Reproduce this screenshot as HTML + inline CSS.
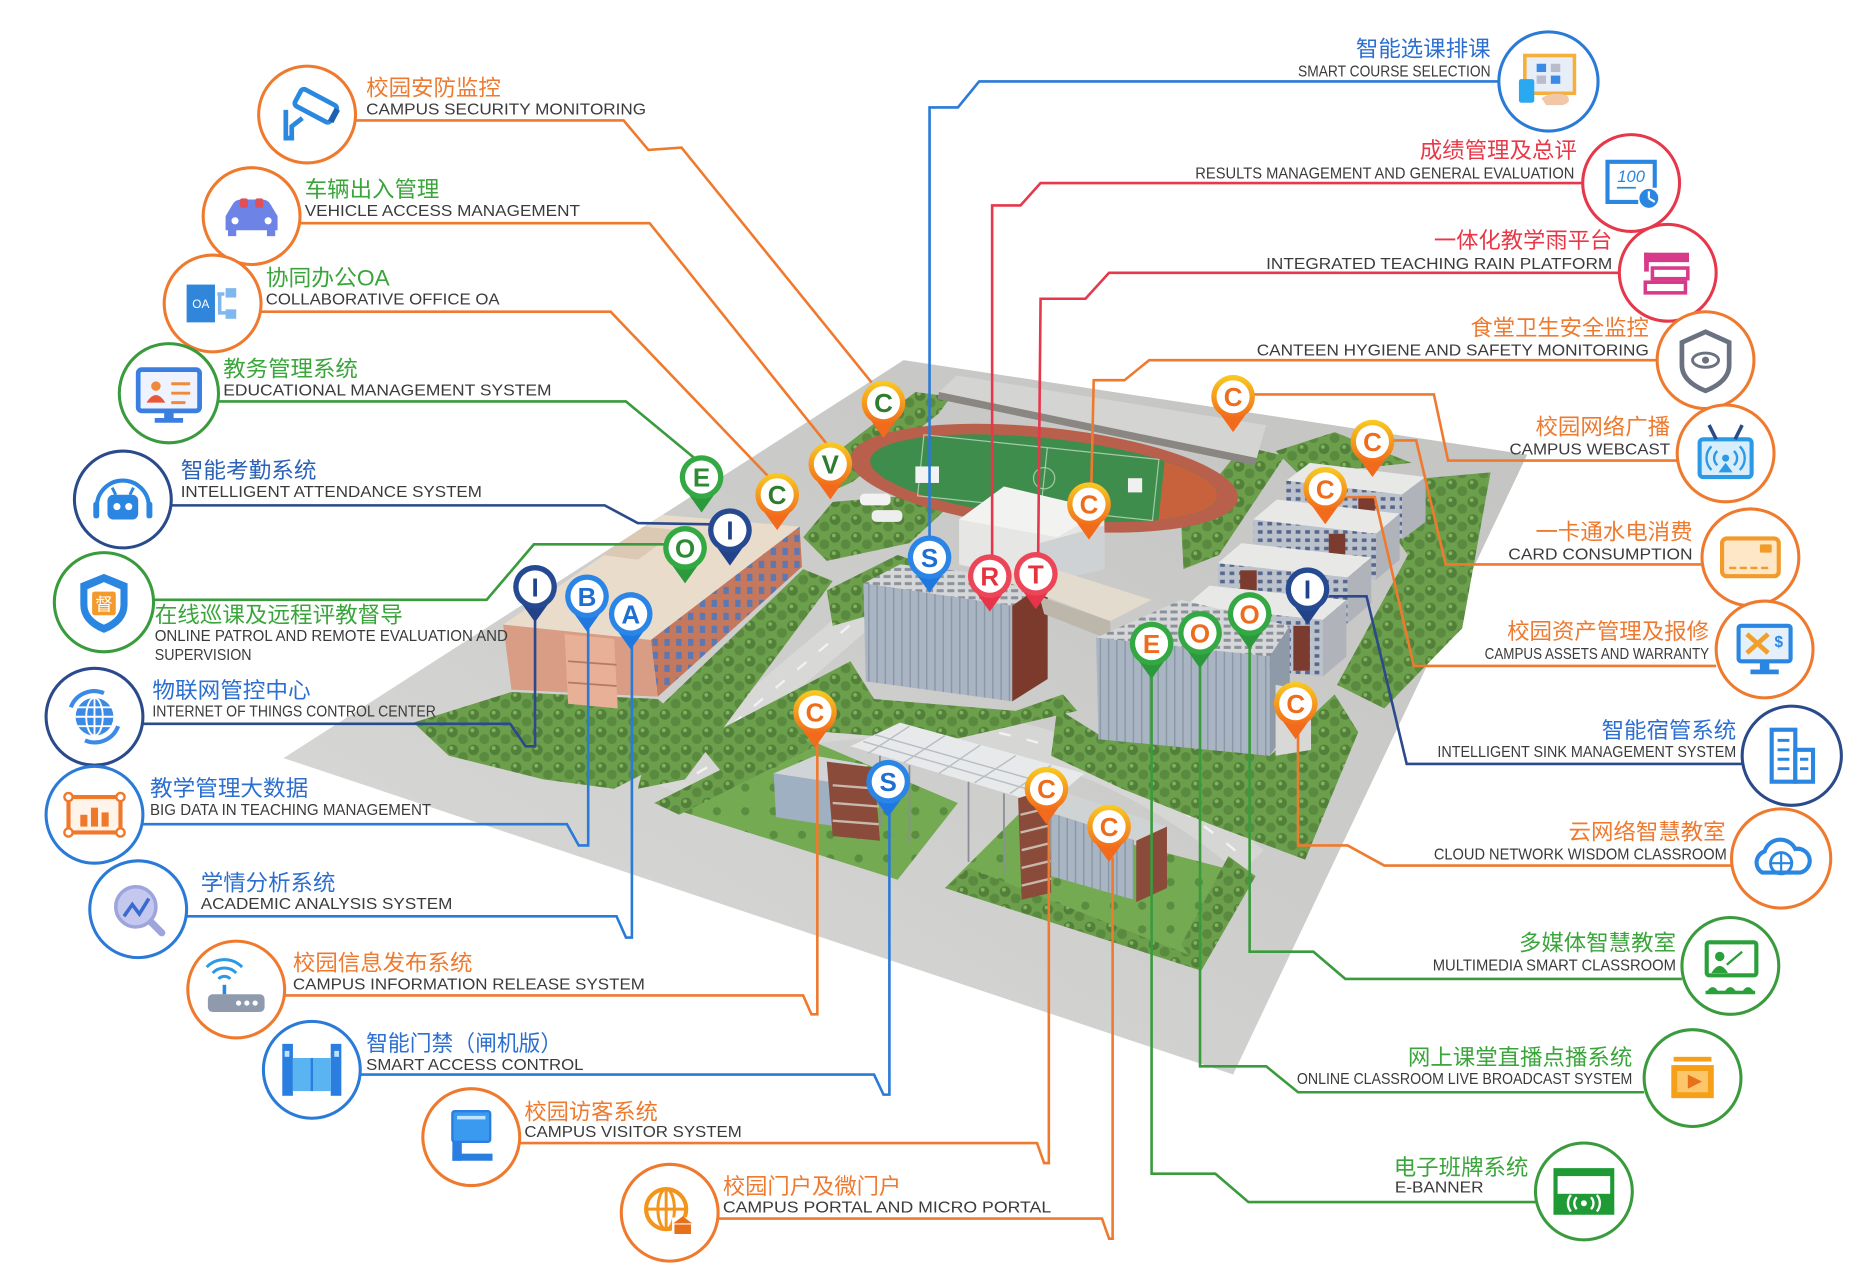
<!DOCTYPE html>
<html><head><meta charset="utf-8">
<style>
html,body{margin:0;padding:0;background:#fff;}
svg{display:block;}
text{font-family:"Liberation Sans","Noto Sans CJK SC",sans-serif;}
.cn{font-size:19px;}
.en{font-size:13.5px;fill:#3b3b3b;}
.pl{font-size:22px;font-weight:bold;font-family:"Liberation Sans",sans-serif;}
.ln{fill:none;stroke-width:2.2;stroke-linejoin:miter;}
.ring{fill:#fff;stroke-width:2.6;}
</style></head><body>
<svg width="1852" height="1280" viewBox="0 0 1568 1084" preserveAspectRatio="none" xmlns="http://www.w3.org/2000/svg">
<defs>
 <pattern id="trees" patternUnits="userSpaceOnUse" width="18" height="15">
   <rect width="18" height="15" fill="#6c9f4c"/>
   <circle cx="5" cy="5" r="4.5" fill="#527f39"/>
   <circle cx="14" cy="11" r="4.2" fill="#5a8a3f"/>
   <circle cx="4" cy="3.5" r="1.6" fill="#82b45e"/>
 </pattern>
 <pattern id="grass" patternUnits="userSpaceOnUse" width="24" height="20">
   <rect width="24" height="20" fill="#74aa52"/>
   <circle cx="7" cy="7" r="3.5" fill="#5b8d40"/>
 </pattern>
 <pattern id="win" patternUnits="userSpaceOnUse" width="10" height="11">
   <rect width="10" height="11" fill="#c4785e"/>
   <rect x="2.5" y="2" width="4.5" height="6" fill="#5d78b0"/>
 </pattern>
 <pattern id="glass" patternUnits="userSpaceOnUse" width="7" height="10">
   <rect width="7" height="10" fill="#a9b5c2"/>
   <rect x="0" y="0" width="1.2" height="10" fill="#8a97a6"/>
 </pattern>
 <pattern id="dorm" patternUnits="userSpaceOnUse" width="8" height="7">
   <rect width="8" height="7" fill="#bcc2cb"/>
   <rect x="1" y="1" width="4" height="3" fill="#56668c"/>
 </pattern>
 <pattern id="panel" patternUnits="userSpaceOnUse" width="9" height="6">
   <rect width="9" height="6" fill="#d5d7d8"/>
   <rect x="1" y="1" width="6" height="2.5" fill="#8b9099"/>
 </pattern>
 <linearGradient id="plat" x1="0" y1="1" x2="1" y2="0">
   <stop offset="0" stop-color="#dcdcda"/><stop offset="0.5" stop-color="#cdcdcb"/><stop offset="1" stop-color="#c3c3c1"/>
 </linearGradient>
 <linearGradient id="og" x1="0" y1="0" x2="0" y2="1"><stop offset="0" stop-color="#f9cb22"/><stop offset="1" stop-color="#f26a1b"/></linearGradient>
</defs>

<rect width="1568" height="1084" fill="#fff"/>

<!-- ============ CAMPUS ============ -->
<polygon points="240,642 765,305 1293,385 1044,910" fill="url(#plat)"/>
<polygon points="545,660 780,462 805,472 575,672" fill="#d8d8d6"/>
<path d="M560,650 Q640,600 760,600 Q930,600 1070,720 L1050,740 Q920,630 760,625 Q650,625 585,665 Z" fill="#d6d6d4"/>
<g stroke="#f2f2f2" stroke-width="2" stroke-dasharray="10,14">
 <line x1="565" y1="660" x2="790" y2="470"/>
 <path d="M590,655 Q660,612 760,612 Q920,612 1055,728" fill="none"/>
</g>

<!-- lawns -->
<polygon points="350,612 433,586 557,592 580,612 555,650 520,668 460,660 380,640" fill="url(#trees)"/>
<polygon points="540,668 557,600 680,482 705,492 580,660" fill="url(#trees)"/>
<polygon points="686,400 775,332 805,336 795,350 722,408 700,418" fill="url(#trees)"/>
<polygon points="680,455 705,425 790,418 800,432 770,460 700,475" fill="url(#trees)"/>
<polygon points="590,628 720,560 740,592 860,602 900,588 912,602 800,628 700,620 612,655" fill="url(#trees)"/>
<polygon points="554,680 672,621 811,680 760,745" fill="url(#grass)"/>
<polygon points="554,680 672,621 690,632 575,690" fill="url(#trees)"/>
<polygon points="800,752 862,690 1063,742 1017,822" fill="url(#grass)"/>
<polygon points="800,752 820,735 1010,810 1017,822" fill="url(#trees)"/>
<polygon points="1063,742 1040,725 1000,800 1017,822" fill="url(#trees)"/>
<polygon points="895,600 935,625 1075,640 1130,588 1150,620 1105,728 1030,700 950,668 890,640" fill="url(#trees)"/>
<polygon points="1150,410 1262,400 1238,532 1172,600 1132,580 1192,470" fill="url(#trees)"/>
<polygon points="1000,442 1052,378 1088,386 1032,470 1002,482" fill="url(#trees)"/>
<polygon points="1080,382 1130,366 1195,392 1100,402" fill="url(#trees)"/>
<polygon points="700,500 760,470 790,480 740,520 705,530" fill="url(#trees)"/>

<!-- stadium -->
<polygon points="795,332 810,318 1072,360 1064,388" fill="#d4d4d2"/>
<polygon points="795,332 1064,388 1062,394 794,338" fill="#8a8681"/>
<g transform="translate(884,405) rotate(6)">
 <ellipse rx="165" ry="43" fill="#b8604c"/>
 <ellipse rx="148" ry="34" fill="#3e8d4d"/>
 <path d="M100,-25 A148,34 0 0 1 100,25 Z" fill="#c8623c"/>
 <rect x="-105" y="-26" width="200" height="52" fill="none" stroke="#cfe5cf" stroke-width="1" opacity="0.7"/>
 <line x1="0" y1="-26" x2="0" y2="26" stroke="#cfe5cf" stroke-width="1" opacity="0.7"/>
 <circle r="9" fill="none" stroke="#cfe5cf" stroke-width="1" opacity="0.7"/>
</g>
<rect x="955" y="405" width="12" height="12" fill="#f0f0f0"/>
<rect x="775" y="395" width="20" height="14" fill="#f2f2f2"/>

<!-- brick building -->
<polygon points="426,529 561,436 677,446 551,542" fill="#e9dccb"/>
<polygon points="510,470 545,446 575,449 540,474" fill="#dcc9b3"/>
<polygon points="551,542 677,446 679,480 557,590" fill="url(#win)"/>
<polygon points="426,529 551,542 557,590 433,584" fill="#d99c84"/>
<polygon points="478,537 520,541 523,600 481,596" fill="#e8b096"/>
<line x1="481" y1="560" x2="522" y2="563" stroke="#b67a62" stroke-width="1.5"/>
<line x1="481" y1="578" x2="522" y2="581" stroke="#b67a62" stroke-width="1.5"/>
<rect x="728" y="418" width="26" height="10" rx="4" fill="#f2f2f2"/>
<rect x="738" y="432" width="26" height="10" rx="4" fill="#eeeeee"/>

<!-- canteen -->
<polygon points="812,440 850,412 935,432 935,482 880,494 812,478" fill="#e6e6e4"/>
<polygon points="812,440 850,412 935,432 895,455" fill="#f2f2f0"/>
<polygon points="880,460 935,445 935,482 880,494" fill="#cfd2d4"/>

<!-- center building -->
<polygon points="731,494 762,478 887,492 857,513" fill="url(#panel)"/>
<polygon points="731,494 857,513 857,594 733,577" fill="url(#glass)"/>
<polygon points="857,513 887,492 887,575 857,594" fill="#7b3a2b"/>
<polygon points="845,490 880,478 975,508 940,526" fill="#e3dbcd"/>
<polygon points="880,505 940,526 940,542 884,520" fill="#bdb6aa"/>

<!-- dorms -->
<polygon points="1109,392 1207,404 1187,419 1089,407" fill="#e8e8e6"/>
<polygon points="1089,407 1187,419 1187,457 1089,445" fill="url(#dorm)"/>
<polygon points="1187,419 1207,404 1207,442 1187,457" fill="#b0b4ba"/>
<rect x="1150" y="420" width="14" height="30" fill="#7b3b2e"/>

<polygon points="1081,423 1185,435 1165,452 1061,440" fill="#e8e8e6"/>
<polygon points="1061,440 1165,452 1165,491 1061,479" fill="url(#dorm)"/>
<polygon points="1165,452 1185,435 1185,474 1165,491" fill="#b0b4ba"/>
<rect x="1125" y="452" width="14" height="32" fill="#7b3b2e"/>

<polygon points="1051,460 1161,472 1141,489 1031,477" fill="#e8e8e6"/>
<polygon points="1031,477 1141,489 1141,528 1031,516" fill="url(#dorm)"/>
<polygon points="1141,489 1161,472 1161,511 1141,528" fill="#b0b4ba"/>
<rect x="1050" y="483" width="14" height="32" fill="#7b3b2e"/>

<polygon points="1024,496 1140,508 1120,525 1004,513" fill="#e8e8e6"/>
<polygon points="1004,513 1120,525 1120,573 1004,561" fill="url(#dorm)"/>
<polygon points="1120,525 1140,508 1140,556 1120,573" fill="#b0b4ba"/>
<rect x="1095" y="530" width="14" height="38" fill="#7b3b2e"/>

<!-- right glass building -->
<polygon points="928,540 1000,508 1092,530 1075,556" fill="url(#panel)"/>
<polygon points="928,540 1075,556 1075,640 930,626" fill="url(#glass)"/>
<polygon points="1075,556 1092,530 1092,616 1075,640" fill="#8e9aa8"/>
<polygon points="1080,580 1110,585 1110,635 1080,640" fill="#d8d8d6"/>

<!-- gate area -->
<polygon points="655,655 690,640 735,648 720,665" fill="#d0d4d6"/>
<polygon points="655,655 720,665 722,702 657,692" fill="#9fb0c2"/>
<polygon points="700,645 740,650 745,712 705,708" fill="#8a4b3a"/>
<line x1="705" y1="665" x2="744" y2="668" stroke="#c9b8ac" stroke-width="2"/>
<line x1="705" y1="680" x2="744" y2="683" stroke="#c9b8ac" stroke-width="2"/>
<line x1="705" y1="695" x2="744" y2="698" stroke="#c9b8ac" stroke-width="2"/>
<polygon points="720,632 762,612 918,655 886,682" fill="#e7e9eb"/>
<g stroke="#b9bec4" stroke-width="1.2">
 <line x1="740" y1="622" x2="895" y2="666"/>
 <line x1="731" y1="628" x2="890" y2="674"/>
 <line x1="770" y1="615" x2="735" y2="638"/>
 <line x1="800" y1="623" x2="765" y2="646"/>
 <line x1="830" y1="631" x2="795" y2="655"/>
 <line x1="860" y1="640" x2="825" y2="663"/>
 <line x1="890" y1="648" x2="855" y2="672"/>
</g>
<g stroke="#8a8f95" stroke-width="1.5">
 <line x1="745" y1="640" x2="745" y2="700"/><line x1="770" y1="648" x2="770" y2="715"/>
 <line x1="820" y1="662" x2="820" y2="730"/><line x1="850" y1="672" x2="850" y2="740"/>
</g>
<polygon points="862,676 888,668 890,756 865,762" fill="#8a4b3a"/>
<g stroke="#c9b8ac" stroke-width="2"><line x1="864" y1="690" x2="889" y2="684"/><line x1="864" y1="705" x2="889" y2="699"/><line x1="865" y1="720" x2="889" y2="714"/><line x1="865" y1="735" x2="890" y2="729"/><line x1="865" y1="750" x2="890" y2="744"/></g>
<polygon points="888,688 960,710 960,762 890,742" fill="url(#glass)"/>
<polygon points="884,686 905,672 988,700 962,712" fill="#cfd3d4"/>
<polygon points="962,712 988,700 988,752 962,764" fill="#8a4b3a"/>

<!-- ============ CONNECTORS ============ -->
<g class="ln">
<polyline stroke="#ef7a2e" class="ln" points="301,102 528,102 549,127 577,125 738,324"/>
<polyline stroke="#ef7a2e" class="ln" points="254,189 550,189 700,376"/>
<polyline stroke="#ef7a2e" class="ln" points="221,264 517,264 651,404"/>
<polyline stroke="#3a9b3d" class="ln" points="185,340 530,340 588,388"/>
<polyline stroke="#2a4a8c" class="ln" points="145,428 512,428 540,443 602,444"/>
<polyline stroke="#3a9b3d" class="ln" points="130,508 412,508 452,461 563,461"/>
<polyline stroke="#2a4a8c" class="ln" points="121,613 432,613 445,632 453,632 453,524"/>
<polyline stroke="#2a7ad8" class="ln" points="121,698 480,698 490,716 498,716 498,530"/>
<polyline stroke="#2a7ad8" class="ln" points="158,776 522,776 530,794 535,794 535,545"/>
<polyline stroke="#ef7a2e" class="ln" points="241,843 680,843 687,859 692,859 692,628"/>
<polyline stroke="#2a7ad8" class="ln" points="305,910 740,910 748,927 753,927 753,688"/>
<polyline stroke="#ef7a2e" class="ln" points="440,968 878,968 884,985 888,985 888,694"/>
<polyline stroke="#ef7a2e" class="ln" points="608,1032 933,1032 939,1049 942,1049 942,726"/>

<polyline stroke="#2a7ad8" class="ln" points="1269,69 829,69 811,91 787,91 787,455"/>
<polyline stroke="#e6374b" class="ln" points="1340,155 881,155 864,174 840,174 840,470"/>
<polyline stroke="#e6374b" class="ln" points="1371,231 939,231 919,253 881,253 879,468"/>
<polyline stroke="#ef7a2e" class="ln" points="1403,305 973,305 952,322 926,322 924,410"/>
<polyline stroke="#ef7a2e" class="ln" points="1420,390 1226,390 1214,334 1062,334"/>
<polyline stroke="#ef7a2e" class="ln" points="1441,478 1224,478 1199,373 1180,373"/>
<polyline stroke="#ef7a2e" class="ln" points="1453,564 1197,564 1164,421 1140,421"/>
<polyline stroke="#2a4a8c" class="ln" points="1475,647 1191,647 1157,505 1125,505"/>
<polyline stroke="#ef7a2e" class="ln" points="1466,733 1172,733 1141,716 1099,716 1099,622"/>
<polyline stroke="#3a9b3d" class="ln" points="1424,829 1139,829 1112,806 1058,806 1058,546"/>
<polyline stroke="#3a9b3d" class="ln" points="1392,925 1099,925 1072,903 1016,903 1016,562"/>
<polyline stroke="#3a9b3d" class="ln" points="1300,1018 1057,1018 1029,994 975,994 975,571"/>
</g>

<!-- ============ PINS ============ -->
<g transform="translate(748,341)"><path d="M-15,9 L0,30 L15,9 Z" fill="#f26a1b"/><circle r="18.5" fill="url(#og)"/><circle r="14" fill="#fff"/><text y="8" text-anchor="middle" class="pl" fill="#2e7d2e">C</text></g>
<g transform="translate(703,393)"><path d="M-15,9 L0,30 L15,9 Z" fill="#f26a1b"/><circle r="18.5" fill="url(#og)"/><circle r="14" fill="#fff"/><text y="8" text-anchor="middle" class="pl" fill="#2e7d2e">V</text></g>
<g transform="translate(658,419)"><path d="M-15,9 L0,30 L15,9 Z" fill="#f26a1b"/><circle r="18.5" fill="url(#og)"/><circle r="14" fill="#fff"/><text y="8" text-anchor="middle" class="pl" fill="#2e7d2e">C</text></g>
<g transform="translate(922,427)"><path d="M-15,9 L0,30 L15,9 Z" fill="#f26a1b"/><circle r="18.5" fill="url(#og)"/><circle r="14" fill="#fff"/><text y="8" text-anchor="middle" class="pl" fill="#ee6d1c">C</text></g>
<g transform="translate(1044,336)"><path d="M-15,9 L0,30 L15,9 Z" fill="#f26a1b"/><circle r="18.5" fill="url(#og)"/><circle r="14" fill="#fff"/><text y="8" text-anchor="middle" class="pl" fill="#ee6d1c">C</text></g>
<g transform="translate(1162,374)"><path d="M-15,9 L0,30 L15,9 Z" fill="#f26a1b"/><circle r="18.5" fill="url(#og)"/><circle r="14" fill="#fff"/><text y="8" text-anchor="middle" class="pl" fill="#ee6d1c">C</text></g>
<g transform="translate(1122,414)"><path d="M-15,9 L0,30 L15,9 Z" fill="#f26a1b"/><circle r="18.5" fill="url(#og)"/><circle r="14" fill="#fff"/><text y="8" text-anchor="middle" class="pl" fill="#ee6d1c">C</text></g>
<g transform="translate(1097,596)"><path d="M-15,9 L0,30 L15,9 Z" fill="#f26a1b"/><circle r="18.5" fill="url(#og)"/><circle r="14" fill="#fff"/><text y="8" text-anchor="middle" class="pl" fill="#ee6d1c">C</text></g>
<g transform="translate(690,603)"><path d="M-15,9 L0,30 L15,9 Z" fill="#f26a1b"/><circle r="18.5" fill="url(#og)"/><circle r="14" fill="#fff"/><text y="8" text-anchor="middle" class="pl" fill="#ee6d1c">C</text></g>
<g transform="translate(886,668)"><path d="M-15,9 L0,30 L15,9 Z" fill="#f26a1b"/><circle r="18.5" fill="url(#og)"/><circle r="14" fill="#fff"/><text y="8" text-anchor="middle" class="pl" fill="#ee6d1c">C</text></g>
<g transform="translate(939,700)"><path d="M-15,9 L0,30 L15,9 Z" fill="#f26a1b"/><circle r="18.5" fill="url(#og)"/><circle r="14" fill="#fff"/><text y="8" text-anchor="middle" class="pl" fill="#ee6d1c">C</text></g>
<g transform="translate(594,404)"><path d="M-15,9 L0,30 L15,9 Z" fill="#2c9a3c"/><circle r="18.5" fill="#33a843"/><circle r="14" fill="#fff"/><text y="8" text-anchor="middle" class="pl" fill="#2e8a34">E</text></g>
<g transform="translate(580,464)"><path d="M-15,9 L0,30 L15,9 Z" fill="#2c9a3c"/><circle r="18.5" fill="#33a843"/><circle r="14" fill="#fff"/><text y="8" text-anchor="middle" class="pl" fill="#2e8a34">O</text></g>
<g transform="translate(1058,520)"><path d="M-15,9 L0,30 L15,9 Z" fill="#2c9a3c"/><circle r="18.5" fill="#33a843"/><circle r="14" fill="#fff"/><text y="8" text-anchor="middle" class="pl" fill="#ee6d1c">O</text></g>
<g transform="translate(1016,536)"><path d="M-15,9 L0,30 L15,9 Z" fill="#2c9a3c"/><circle r="18.5" fill="#33a843"/><circle r="14" fill="#fff"/><text y="8" text-anchor="middle" class="pl" fill="#ee6d1c">O</text></g>
<g transform="translate(975,545)"><path d="M-15,9 L0,30 L15,9 Z" fill="#2c9a3c"/><circle r="18.5" fill="#33a843"/><circle r="14" fill="#fff"/><text y="8" text-anchor="middle" class="pl" fill="#ee6d1c">E</text></g>
<g transform="translate(618,449)"><path d="M-15,9 L0,30 L15,9 Z" fill="#22438a"/><circle r="18.5" fill="#264a92"/><circle r="14" fill="#fff"/><text y="8" text-anchor="middle" class="pl" fill="#22438a">I</text></g>
<g transform="translate(453,497)"><path d="M-15,9 L0,30 L15,9 Z" fill="#22438a"/><circle r="18.5" fill="#264a92"/><circle r="14" fill="#fff"/><text y="8" text-anchor="middle" class="pl" fill="#22438a">I</text></g>
<g transform="translate(1107,499)"><path d="M-15,9 L0,30 L15,9 Z" fill="#22438a"/><circle r="18.5" fill="#264a92"/><circle r="14" fill="#fff"/><text y="8" text-anchor="middle" class="pl" fill="#22438a">I</text></g>
<g transform="translate(497,505)"><path d="M-15,9 L0,30 L15,9 Z" fill="#1f78df"/><circle r="18.5" fill="#2a85e6"/><circle r="14" fill="#fff"/><text y="8" text-anchor="middle" class="pl" fill="#1f6fd0">B</text></g>
<g transform="translate(534,520)"><path d="M-15,9 L0,30 L15,9 Z" fill="#1f78df"/><circle r="18.5" fill="#2a85e6"/><circle r="14" fill="#fff"/><text y="8" text-anchor="middle" class="pl" fill="#1f6fd0">A</text></g>
<g transform="translate(787,472)"><path d="M-15,9 L0,30 L15,9 Z" fill="#1f78df"/><circle r="18.5" fill="#2a85e6"/><circle r="14" fill="#fff"/><text y="8" text-anchor="middle" class="pl" fill="#1f6fd0">S</text></g>
<g transform="translate(752,662)"><path d="M-15,9 L0,30 L15,9 Z" fill="#1f78df"/><circle r="18.5" fill="#2a85e6"/><circle r="14" fill="#fff"/><text y="8" text-anchor="middle" class="pl" fill="#1f6fd0">S</text></g>
<g transform="translate(838,488)"><path d="M-15,9 L0,30 L15,9 Z" fill="#e8344a"/><circle r="18.5" fill="#ec4558"/><circle r="14" fill="#fff"/><text y="8" text-anchor="middle" class="pl" fill="#e5333f">R</text></g>
<g transform="translate(877,486)"><path d="M-15,9 L0,30 L15,9 Z" fill="#e8344a"/><circle r="18.5" fill="#ec4558"/><circle r="14" fill="#fff"/><text y="8" text-anchor="middle" class="pl" fill="#e5333f">T</text></g>

<!-- ============ LEFT ITEMS ============ -->
<circle class="ring" cx="260" cy="97" r="41" stroke="#ef7a2e"/>
<g transform="translate(260,97)">
 <g transform="rotate(28)"><rect x="-14" y="-18" width="34" height="16" rx="3" fill="#fff" stroke="#2a88e0" stroke-width="4"/><rect x="18" y="-16" width="5" height="12" fill="#1f5fb0"/></g>
 <path d="M-18,-4 v24 h5 v-10 l9,-7" fill="none" stroke="#2a88e0" stroke-width="4"/>
</g>
<text class="cn" x="310" y="81" fill="#ee7a30" textLength="114" lengthAdjust="spacingAndGlyphs">校园安防监控</text>
<text class="en" x="310" y="97" textLength="237" lengthAdjust="spacingAndGlyphs">CAMPUS SECURITY MONITORING</text>

<circle class="ring" cx="213" cy="183" r="41" stroke="#ef7a2e"/>
<g transform="translate(213,183)">
 <path d="M-22,0 L-16,-10 Q-14,-14 -8,-14 L8,-14 Q14,-14 16,-10 L22,0 L22,12 L-22,12 Z" fill="#6d84e6"/>
 <rect x="-10" y="-15" width="7" height="8" rx="2" fill="#e0505a"/><rect x="3" y="-15" width="7" height="8" rx="2" fill="#e0505a"/>
 <rect x="-20" y="11" width="7" height="6" fill="#6d84e6"/><rect x="13" y="11" width="7" height="6" fill="#6d84e6"/>
 <circle cx="-14" cy="4" r="3" fill="#fff"/><circle cx="14" cy="4" r="3" fill="#fff"/>
</g>
<text class="cn" x="258" y="167" fill="#3aa53a" textLength="114" lengthAdjust="spacingAndGlyphs">车辆出入管理</text>
<text class="en" x="258" y="183" textLength="233" lengthAdjust="spacingAndGlyphs">VEHICLE ACCESS MANAGEMENT</text>

<circle class="ring" cx="180" cy="257" r="41" stroke="#ef7a2e"/>
<g transform="translate(180,257)">
 <rect x="-22" y="-16" width="24" height="32" fill="#2f86da"/>
 <text x="-10" y="4" font-size="10" fill="#fff" text-anchor="middle">OA</text>
 <path d="M4,-8 h6 M6,-8 v16 h6" stroke="#7fb8ee" stroke-width="3" fill="none"/>
 <rect x="11" y="-13" width="9" height="8" fill="#7fb8ee"/><rect x="11" y="5" width="9" height="8" fill="#7fb8ee"/>
</g>
<text class="cn" x="225" y="242" fill="#3aa53a" textLength="105" lengthAdjust="spacingAndGlyphs">协同办公OA</text>
<text class="en" x="225" y="258" textLength="198" lengthAdjust="spacingAndGlyphs">COLLABORATIVE OFFICE OA</text>

<circle class="ring" cx="143" cy="333" r="42" stroke="#3a9b3d"/>
<g transform="translate(143,333)">
 <rect x="-26" y="-20" width="52" height="35" rx="3" fill="#eef3ff" stroke="#3a7ee0" stroke-width="4"/>
 <rect x="-4" y="15" width="8" height="7" fill="#3a7ee0"/><rect x="-12" y="21" width="24" height="4" fill="#3a7ee0"/>
 <circle cx="-11" cy="-6" r="4" fill="#f08a3a"/><path d="M-19,8 q8,-13 16,0 z" fill="#e8573a"/>
 <path d="M2,-8 h16 M2,0 h16 M2,8 h12" stroke="#f08a3a" stroke-width="2.5"/>
</g>
<text class="cn" x="189" y="319" fill="#3aa53a" textLength="114" lengthAdjust="spacingAndGlyphs">教务管理系统</text>
<text class="en" x="189" y="335" textLength="278" lengthAdjust="spacingAndGlyphs">EDUCATIONAL MANAGEMENT SYSTEM</text>

<circle class="ring" cx="104" cy="423" r="41" stroke="#2a4a8c"/>
<g transform="translate(104,423)">
 <path d="M-22,6 A22,22 0 0 1 22,6" stroke="#2a86e0" stroke-width="3.5" fill="none"/>
 <rect x="-25" y="2" width="5" height="14" rx="2" fill="#2a86e0"/><rect x="20" y="2" width="5" height="14" rx="2" fill="#2a86e0"/>
 <rect x="-13" y="-4" width="26" height="21" rx="5" fill="#2a86e0"/>
 <circle cx="-5" cy="6" r="3" fill="#fff"/><circle cx="5" cy="6" r="3" fill="#fff"/>
 <path d="M-6,-4 l-3,-6 M6,-4 l3,-6" stroke="#2a86e0" stroke-width="2.5"/>
</g>
<text class="cn" x="153" y="405" fill="#2c62b8" textLength="115" lengthAdjust="spacingAndGlyphs">智能考勤系统</text>
<text class="en" x="153" y="421" textLength="255" lengthAdjust="spacingAndGlyphs">INTELLIGENT ATTENDANCE SYSTEM</text>

<circle class="ring" cx="88" cy="510" r="42" stroke="#3a9b3d"/>
<g transform="translate(88,510)">
 <path d="M0,-24 L20,-16 L20,2 Q20,18 0,26 Q-20,18 -20,2 L-20,-16 Z" fill="#2a86e0"/>
 <path d="M0,-17 L14,-11 L14,2 Q14,13 0,19 Q-14,13 -14,2 L-14,-11 Z" fill="#fff"/>
 <rect x="-10" y="-9" width="20" height="20" rx="2" fill="#f39a2a"/>
 <text x="0" y="7" font-size="15" fill="#fff" text-anchor="middle" font-family="Noto Sans CJK SC, sans-serif">督</text>
</g>
<text class="cn" x="131" y="527" fill="#3aa53a" textLength="210" lengthAdjust="spacingAndGlyphs">在线巡课及远程评教督导</text>
<text class="en" x="131" y="543" textLength="299" lengthAdjust="spacingAndGlyphs">ONLINE PATROL AND REMOTE EVALUATION AND</text>
<text class="en" x="131" y="559" textLength="82" lengthAdjust="spacingAndGlyphs">SUPERVISION</text>

<circle class="ring" cx="80" cy="607" r="41" stroke="#2a4a8c"/>
<g transform="translate(80,607)">
 <circle r="16" fill="#3a8ae6"/>
 <ellipse rx="7" ry="16" fill="none" stroke="#fff" stroke-width="1.6"/>
 <path d="M-16,0 h32 M-14,-8 h28 M-14,8 h28 M0,-16 v32" stroke="#fff" stroke-width="1.6"/>
 <path d="M-20,-8 A21,21 0 0 1 8,-20" fill="none" stroke="#3a8ae6" stroke-width="3.5"/>
 <path d="M20,8 A21,21 0 0 1 -8,20" fill="none" stroke="#3a8ae6" stroke-width="3.5"/>
</g>
<text class="cn" x="129" y="591" fill="#2c6fd0" textLength="134" lengthAdjust="spacingAndGlyphs">物联网管控中心</text>
<text class="en" x="129" y="607" textLength="240" lengthAdjust="spacingAndGlyphs">INTERNET OF THINGS CONTROL CENTER</text>

<circle class="ring" cx="80" cy="690" r="41" stroke="#2a7ad8"/>
<g transform="translate(80,690)">
 <rect x="-22" y="-15" width="44" height="30" fill="#fff4ea" stroke="#f0782a" stroke-width="3.5"/>
 <circle cx="-22" cy="-15" r="3.5" fill="#fff" stroke="#f0782a" stroke-width="2"/><circle cx="22" cy="-15" r="3.5" fill="#fff" stroke="#f0782a" stroke-width="2"/>
 <circle cx="-22" cy="15" r="3.5" fill="#fff" stroke="#f0782a" stroke-width="2"/><circle cx="22" cy="15" r="3.5" fill="#fff" stroke="#f0782a" stroke-width="2"/>
 <rect x="-12" y="0" width="6" height="10" fill="#f0782a"/><rect x="-3" y="-6" width="6" height="16" fill="#f0782a"/><rect x="6" y="-2" width="6" height="12" fill="#f0782a"/>
</g>
<text class="cn" x="127" y="674" fill="#2c6fd0" textLength="134" lengthAdjust="spacingAndGlyphs">教学管理大数据</text>
<text class="en" x="127" y="690" textLength="238" lengthAdjust="spacingAndGlyphs">BIG DATA IN TEACHING MANAGEMENT</text>

<circle class="ring" cx="117" cy="770" r="41" stroke="#2a7ad8"/>
<g transform="translate(117,770)">
 <line x1="10" y1="10" x2="20" y2="20" stroke="#9ea4dc" stroke-width="6" stroke-linecap="round"/>
 <circle cx="-2" cy="-2" r="17" fill="#c4c8ee" stroke="#9ea4dc" stroke-width="3"/>
 <polyline points="-12,6 -5,-4 1,4 9,-9" fill="none" stroke="#3a6ad0" stroke-width="3"/>
</g>
<text class="cn" x="170" y="754" fill="#2c6fd0" textLength="114" lengthAdjust="spacingAndGlyphs">学情分析系统</text>
<text class="en" x="170" y="770" textLength="213" lengthAdjust="spacingAndGlyphs">ACADEMIC ANALYSIS SYSTEM</text>

<circle class="ring" cx="200" cy="838" r="41" stroke="#ef7a2e"/>
<g transform="translate(200,838)">
 <rect x="-24" y="4" width="48" height="15" rx="4" fill="#8f9bad"/>
 <circle cx="2" cy="11.5" r="2.2" fill="#fff"/><circle cx="9" cy="11.5" r="2.2" fill="#fff"/><circle cx="16" cy="11.5" r="2.2" fill="#fff"/>
 <line x1="-10" y1="-4" x2="-10" y2="4" stroke="#2a86e0" stroke-width="3"/>
 <path d="M-15,-9 A7,7 0 0 1 -5,-9 M-20,-14 A14,14 0 0 1 0,-14 M-25,-19 A21,21 0 0 1 5,-19" fill="none" stroke="#2a9ae6" stroke-width="2.5"/>
</g>
<text class="cn" x="248" y="822" fill="#ee7a30" textLength="152" lengthAdjust="spacingAndGlyphs">校园信息发布系统</text>
<text class="en" x="248" y="838" textLength="298" lengthAdjust="spacingAndGlyphs">CAMPUS INFORMATION RELEASE SYSTEM</text>

<circle class="ring" cx="264" cy="906" r="41" stroke="#2a7ad8"/>
<g transform="translate(264,906)">
 <rect x="-25" y="-22" width="9" height="44" fill="#2a7ee0"/><rect x="16" y="-22" width="9" height="44" fill="#2a7ee0"/>
 <rect x="-16" y="-10" width="32" height="28" fill="#5ab4f2"/>
 <line x1="0" y1="-10" x2="0" y2="18" stroke="#2a7ee0" stroke-width="2"/>
 <rect x="-23" y="-16" width="4" height="5" fill="#bfe3ff"/><rect x="19" y="-16" width="4" height="5" fill="#bfe3ff"/>
</g>
<text class="cn" x="310" y="890" fill="#2c6fd0" textLength="166" lengthAdjust="spacingAndGlyphs">智能门禁（闸机版）</text>
<text class="en" x="310" y="906" textLength="184" lengthAdjust="spacingAndGlyphs">SMART ACCESS CONTROL</text>

<circle class="ring" cx="399" cy="963" r="41" stroke="#ef7a2e"/>
<g transform="translate(399,963)">
 <rect x="-16" y="-22" width="32" height="26" rx="2" fill="#3a9af0" stroke="#2a7ee0" stroke-width="2"/>
 <rect x="-12" y="-18" width="24" height="3" fill="#bfe3ff"/>
 <rect x="-16" y="4" width="8" height="16" fill="#2a7ee0"/>
 <rect x="-16" y="14" width="34" height="6" fill="#2a7ee0"/>
</g>
<text class="cn" x="444" y="948" fill="#ee7a30" textLength="113" lengthAdjust="spacingAndGlyphs">校园访客系统</text>
<text class="en" x="444" y="963" textLength="184" lengthAdjust="spacingAndGlyphs">CAMPUS VISITOR SYSTEM</text>

<circle class="ring" cx="567" cy="1027" r="41" stroke="#ef7a2e"/>
<g transform="translate(567,1027)">
 <circle cx="-3" cy="-3" r="17" fill="none" stroke="#f3951c" stroke-width="3.5"/>
 <ellipse cx="-3" cy="-3" rx="7" ry="17" fill="none" stroke="#f3951c" stroke-width="2.5"/>
 <path d="M-20,-3 h34 M-3,-20 v34" stroke="#f3951c" stroke-width="2.5"/>
 <rect x="2" y="4" width="18" height="16" fill="#fff"/>
 <path d="M3,9 L11,3 L19,9 Z M4,10 h14 v8 h-14 z" fill="#e8701a"/>
</g>
<text class="cn" x="612" y="1011" fill="#ee7a30" textLength="151" lengthAdjust="spacingAndGlyphs">校园门户及微门户</text>
<text class="en" x="612" y="1027" textLength="278" lengthAdjust="spacingAndGlyphs">CAMPUS PORTAL AND MICRO PORTAL</text>

<!-- ============ RIGHT ITEMS ============ -->
<circle class="ring" cx="1311" cy="69" r="42" stroke="#2a7ad8"/>
<g transform="translate(1311,69)">
 <rect x="-20" y="-22" width="42" height="32" fill="#e8eef8" stroke="#f4b03a" stroke-width="3"/>
 <rect x="-10" y="-15" width="8" height="7" fill="#3a8ae6"/><rect x="2" y="-15" width="8" height="7" fill="#b8bccc"/>
 <rect x="-10" y="-5" width="8" height="7" fill="#b8bccc"/><rect x="2" y="-5" width="8" height="7" fill="#3a8ae6"/>
 <rect x="-25" y="-2" width="13" height="20" rx="2" fill="#2aa8f0"/>
 <path d="M-6,14 q10,-6 22,-2 q4,6 -4,8 h-14 z" fill="#f2c7a8"/>
</g>
<text class="cn" x="1262" y="48" fill="#2c6fd0" text-anchor="end" textLength="114" lengthAdjust="spacingAndGlyphs">智能选课排课</text>
<text class="en" x="1262" y="65" text-anchor="end" textLength="163" lengthAdjust="spacingAndGlyphs">SMART COURSE SELECTION</text>

<circle class="ring" cx="1381" cy="155" r="41" stroke="#e6374b"/>
<g transform="translate(1381,155)">
 <path d="M6,16 H-20 V-18 H20 V4" fill="none" stroke="#2a86e0" stroke-width="3.5"/>
 <text x="0" y="-1" font-size="14" font-style="italic" fill="#2a86e0" text-anchor="middle">100</text>
 <line x1="-12" y1="4" x2="4" y2="4" stroke="#2a86e0" stroke-width="1.5"/>
 <circle cx="15" cy="13" r="8" fill="#2a86e0"/><path d="M15,13 V7 M15,13 L20,16" stroke="#fff" stroke-width="1.8"/>
</g>
<text class="cn" x="1335" y="134" fill="#e83848" text-anchor="end" textLength="133" lengthAdjust="spacingAndGlyphs">成绩管理及总评</text>
<text class="en" x="1333" y="151" text-anchor="end" textLength="321" lengthAdjust="spacingAndGlyphs">RESULTS MANAGEMENT AND GENERAL EVALUATION</text>

<circle class="ring" cx="1412" cy="231" r="41" stroke="#e6374b"/>
<g transform="translate(1412,231)">
 <rect x="-20" y="-17" width="38" height="8" fill="#d83a8a"/>
 <rect x="-20" y="-17" width="4" height="16" fill="#d83a8a"/>
 <rect x="-13" y="-4" width="30" height="9" fill="#fff" stroke="#d83a8a" stroke-width="3"/>
 <rect x="-19" y="8" width="34" height="9" fill="#fff" stroke="#d83a8a" stroke-width="3"/>
</g>
<text class="cn" x="1365" y="210" fill="#e83848" text-anchor="end" textLength="151" lengthAdjust="spacingAndGlyphs">一体化教学雨平台</text>
<text class="en" x="1365" y="228" text-anchor="end" textLength="293" lengthAdjust="spacingAndGlyphs">INTEGRATED TEACHING RAIN PLATFORM</text>

<circle class="ring" cx="1444" cy="305" r="41" stroke="#ef7a2e"/>
<g transform="translate(1444,305)">
 <path d="M0,-24 L20,-15 L20,4 Q20,18 0,26 Q-20,18 -20,4 L-20,-15 Z" fill="#fff" stroke="#6a7282" stroke-width="4"/>
 <ellipse cx="0" cy="0" rx="11" ry="6" fill="none" stroke="#6a7282" stroke-width="2.5"/>
 <circle cx="0" cy="0" r="3" fill="#6a7282"/>
</g>
<text class="cn" x="1396" y="284" fill="#ee7a30" text-anchor="end" textLength="151" lengthAdjust="spacingAndGlyphs">食堂卫生安全监控</text>
<text class="en" x="1396" y="301" text-anchor="end" textLength="332" lengthAdjust="spacingAndGlyphs">CANTEEN HYGIENE AND SAFETY MONITORING</text>

<circle class="ring" cx="1461" cy="384" r="41" stroke="#ef7a2e"/>
<g transform="translate(1461,384)">
 <rect x="-22" y="-12" width="44" height="32" rx="3" fill="#d8eefc" stroke="#2a9ae6" stroke-width="3.5"/>
 <path d="M-8,-12 L-14,-24 M8,-12 L14,-24" stroke="#2a4a8c" stroke-width="3"/>
 <circle cx="0" cy="4" r="3" fill="#2a9ae6"/>
 <path d="M-7,-2 A8,8 0 0 0 -7,10 M7,-2 A8,8 0 0 1 7,10 M-12,-6 A14,14 0 0 0 -12,14 M12,-6 A14,14 0 0 1 12,14" fill="none" stroke="#2a9ae6" stroke-width="2"/>
 <path d="M-6,16 L0,8 L6,16 Z" fill="#2a9ae6"/>
</g>
<text class="cn" x="1414" y="368" fill="#ee7a30" text-anchor="end" textLength="114" lengthAdjust="spacingAndGlyphs">校园网络广播</text>
<text class="en" x="1414" y="385" text-anchor="end" textLength="136" lengthAdjust="spacingAndGlyphs">CAMPUS WEBCAST</text>

<circle class="ring" cx="1482" cy="472" r="41" stroke="#ef7a2e"/>
<g transform="translate(1482,472)">
 <rect x="-24" y="-16" width="48" height="32" rx="4" fill="#fde7c6" stroke="#f29a2a" stroke-width="3.5"/>
 <rect x="8" y="-11" width="10" height="7" rx="1" fill="#f29a2a"/>
 <path d="M-18,9 h36" stroke="#f29a2a" stroke-width="2" stroke-dasharray="6,3"/>
</g>
<text class="cn" x="1433" y="457" fill="#ee7a30" text-anchor="end" textLength="133" lengthAdjust="spacingAndGlyphs">一卡通水电消费</text>
<text class="en" x="1433" y="474" text-anchor="end" textLength="156" lengthAdjust="spacingAndGlyphs">CARD CONSUMPTION</text>

<circle class="ring" cx="1494" cy="550" r="41" stroke="#ef7a2e"/>
<g transform="translate(1494,550)">
 <rect x="-22" y="-20" width="44" height="30" rx="2" fill="#e4f0fc" stroke="#2a86e0" stroke-width="3.5"/>
 <rect x="-4" y="10" width="8" height="8" fill="#2a86e0"/><rect x="-12" y="17" width="24" height="4" fill="#2a86e0"/>
 <path d="M-15,-13 L3,3 M3,-13 L-15,3" stroke="#f0a02a" stroke-width="4"/>
 <text x="12" y="-2" font-size="13" font-weight="bold" fill="#2a86e0" text-anchor="middle">$</text>
</g>
<text class="cn" x="1447" y="541" fill="#ee7a30" text-anchor="end" textLength="171" lengthAdjust="spacingAndGlyphs">校园资产管理及报修</text>
<text class="en" x="1447" y="558" text-anchor="end" textLength="190" lengthAdjust="spacingAndGlyphs">CAMPUS ASSETS AND WARRANTY</text>

<circle class="ring" cx="1517" cy="640" r="42" stroke="#2a4a8c"/>
<g transform="translate(1517,640)">
 <rect x="-17" y="-22" width="20" height="44" fill="#fff" stroke="#2a86e0" stroke-width="3.5"/>
 <rect x="3" y="-5" width="15" height="27" fill="#fff" stroke="#2a86e0" stroke-width="3.5"/>
 <path d="M-12,-13 h10 M-12,-5 h10 M-12,3 h10 M-12,11 h10 M7,3 h7 M7,11 h7" stroke="#2a86e0" stroke-width="2.5"/>
</g>
<text class="cn" x="1470" y="625" fill="#2c6fd0" text-anchor="end" textLength="114" lengthAdjust="spacingAndGlyphs">智能宿管系统</text>
<text class="en" x="1470" y="641" text-anchor="end" textLength="253" lengthAdjust="spacingAndGlyphs">INTELLIGENT SINK MANAGEMENT SYSTEM</text>

<circle class="ring" cx="1508" cy="727" r="42" stroke="#ef7a2e"/>
<g transform="translate(1508,727)">
 <path d="M-16,12 A10,10 0 0 1 -14,-6 A14,14 0 0 1 12,-8 A10,10 0 0 1 16,12 Z" fill="#fff" stroke="#2a86e0" stroke-width="3.5"/>
 <circle cx="0" cy="4" r="9" fill="none" stroke="#2a86e0" stroke-width="2.5"/>
 <path d="M-9,4 h18 M0,-5 v18" stroke="#2a86e0" stroke-width="1.8"/>
</g>
<text class="cn" x="1461" y="711" fill="#ee7a30" text-anchor="end" textLength="133" lengthAdjust="spacingAndGlyphs">云网络智慧教室</text>
<text class="en" x="1462" y="728" text-anchor="end" textLength="248" lengthAdjust="spacingAndGlyphs">CLOUD NETWORK WISDOM CLASSROOM</text>

<circle class="ring" cx="1465" cy="818" r="41" stroke="#3a9b3d"/>
<g transform="translate(1465,818)">
 <rect x="-20" y="-20" width="42" height="28" rx="2" fill="#fff" stroke="#2aa03a" stroke-width="3.5"/>
 <circle cx="-9" cy="-8" r="4" fill="#2aa03a"/><path d="M-16,6 q7,-12 14,0 z" fill="#2aa03a"/>
 <line x1="-3" y1="-1" x2="10" y2="-12" stroke="#2aa03a" stroke-width="2"/>
 <path d="M-20,22 q5,-8 10,0 z M-5,22 q5,-8 10,0 z M10,22 q5,-8 10,0 z" fill="#2aa03a"/>
 <rect x="-21" y="21" width="42" height="3" fill="#2aa03a"/>
</g>
<text class="cn" x="1419" y="805" fill="#3aa53a" text-anchor="end" textLength="133" lengthAdjust="spacingAndGlyphs">多媒体智慧教室</text>
<text class="en" x="1419" y="822" text-anchor="end" textLength="206" lengthAdjust="spacingAndGlyphs">MULTIMEDIA SMART CLASSROOM</text>

<circle class="ring" cx="1433" cy="913" r="41" stroke="#3a9b3d"/>
<g transform="translate(1433,913)">
 <rect x="-16" y="-18" width="32" height="4" fill="#f6a01a"/>
 <rect x="-18" y="-11" width="36" height="28" fill="#f6a01a"/>
 <rect x="-13" y="-6" width="26" height="18" fill="#fbc76a"/>
 <path d="M-4,-3 L8,3 L-4,9 Z" fill="#e8701a"/>
</g>
<text class="cn" x="1382" y="902" fill="#3aa53a" text-anchor="end" textLength="190" lengthAdjust="spacingAndGlyphs">网上课堂直播点播系统</text>
<text class="en" x="1382" y="918" text-anchor="end" textLength="284" lengthAdjust="spacingAndGlyphs">ONLINE CLASSROOM LIVE BROADCAST SYSTEM</text>

<circle class="ring" cx="1341" cy="1009" r="41" stroke="#3a9b3d"/>
<g transform="translate(1341,1009)">
 <rect x="-24" y="-18" width="48" height="36" fill="#fff" stroke="#1f9a35" stroke-width="3.5"/>
 <rect x="-24" y="-18" width="48" height="5" fill="#1f9a35"/>
 <rect x="-24" y="2" width="48" height="16" fill="#1f9a35"/>
 <circle cx="0" cy="10" r="2.5" fill="#fff"/>
 <path d="M-6,5 A7,7 0 0 0 -6,15 M6,5 A7,7 0 0 1 6,15 M-11,3 A11,11 0 0 0 -11,17 M11,3 A11,11 0 0 1 11,17" fill="none" stroke="#fff" stroke-width="2"/>
</g>
<text class="cn" x="1294" y="995" fill="#3aa53a" text-anchor="end" textLength="114" lengthAdjust="spacingAndGlyphs">电子班牌系统</text>
<text class="en" x="1181" y="1010" textLength="75" lengthAdjust="spacingAndGlyphs">E-BANNER</text>

</svg>
</body></html>
